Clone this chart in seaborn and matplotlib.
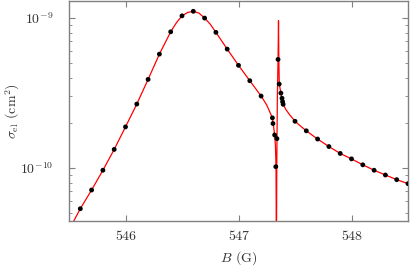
import matplotlib
matplotlib.use("Agg")
import matplotlib.pyplot as plt
import seaborn as sns
import pandas as pd
from matplotlib.ticker import FixedLocator, NullLocator, NullFormatter, FixedFormatter

# Measured points (B in gauss, cross-section in cm^2)
B_pts = [545.6, 545.7, 545.8, 545.9, 546.0, 546.1, 546.2, 546.3, 546.4, 546.5,
         546.6, 546.7, 546.8, 546.9, 547.0, 547.1, 547.2, 547.30, 547.305, 547.32,
         547.33, 547.34, 547.35, 547.36, 547.375, 547.385, 547.39, 547.395, 547.5,
         547.6, 547.7, 547.8, 547.9, 548.0, 548.1, 548.2, 548.3, 548.4, 548.5]
sig_pts = [5.35e-11, 7.13e-11, 9.66e-11, 1.33e-10, 1.88e-10, 2.67e-10, 3.90e-10, 5.75e-10, 8.10e-10, 1.035e-9,
           1.11e-9, 1.00e-9, 8.03e-10, 6.21e-10, 4.84e-10, 3.82e-10, 3.02e-10, 2.16e-10, 1.98e-10, 1.66e-10,
           1.02e-10, 1.57e-10, 5.30e-10, 3.63e-10, 3.16e-10, 2.92e-10, 2.77e-10, 2.66e-10, 2.05e-10,
           1.77e-10, 1.56e-10, 1.39e-10, 1.25e-10, 1.15e-10, 1.05e-10, 9.66e-11, 8.98e-11, 8.36e-11, 7.86e-11]

# Theory curve
B_line = [545.54, 545.6, 545.7, 545.8, 545.9, 546.0, 546.1, 546.2, 546.3, 546.4, 546.45, 546.5,
          546.55, 546.6, 546.65, 546.7, 546.75, 546.8, 546.9, 547.0, 547.1, 547.2, 547.25,
          547.30, 547.31, 547.32, 547.327, 547.332, 547.3345, 547.3355, 547.3365, 547.339,
          547.344, 547.350, 547.354, 547.357, 547.361, 547.375, 547.385, 547.395, 547.42,
          547.45, 547.5, 547.55, 547.6, 547.7, 547.8, 547.9, 548.0, 548.1, 548.2, 548.3, 548.4, 548.5]
sig_line = [4.4e-11, 5.35e-11, 7.13e-11, 9.66e-11, 1.33e-10, 1.88e-10, 2.67e-10, 3.90e-10, 5.75e-10, 8.10e-10, 9.3e-10, 1.035e-9,
            1.09e-9, 1.11e-9, 1.08e-9, 1.00e-9, 9.1e-10, 8.03e-10, 6.21e-10, 4.84e-10, 3.82e-10, 3.02e-10, 2.63e-10,
            2.16e-10, 1.90e-10, 1.66e-10, 1.40e-10, 1.02e-10, 4.0e-11, 1.0e-12, 4.0e-11, 1.10e-10,
            3.0e-10, 5.3e-10, 9.6e-10, 5.2e-10, 3.63e-10, 3.16e-10, 2.90e-10, 2.66e-10, 2.45e-10,
            2.28e-10, 2.05e-10, 1.90e-10, 1.77e-10, 1.56e-10, 1.39e-10, 1.25e-10, 1.15e-10, 1.05e-10, 9.66e-11, 8.98e-11, 8.36e-11, 7.86e-11]

x_ticks = [546, 547, 548]
x_ticklabels = ["546", "547", "548"]
y_ticks = [1e-10, 1e-9]
y_ticklabels = [r"$10^{-10}$", r"$10^{-9}$"]
y_minor = [5e-11, 6e-11, 7e-11, 8e-11, 9e-11,
           2e-10, 3e-10, 4e-10, 5e-10, 6e-10, 7e-10, 8e-10, 9e-10]

sns.set_style("ticks")
plt.rcParams["font.family"] = ["serif"]
plt.rcParams["font.serif"] = ["cmr10", "DejaVu Serif"]
plt.rcParams["mathtext.fontset"] = "cm"
plt.rcParams["axes.unicode_minus"] = False
plt.rcParams["axes.formatter.use_mathtext"] = True

fig = plt.figure(figsize=(4.11, 2.66), dpi=100)
ax = fig.add_axes([69/411, 1 - 221/266, (408 - 69)/411, (221 - 1)/266])

df_line = pd.DataFrame({"B": B_line, "sigma": sig_line})
df_pts = pd.DataFrame({"B": B_pts, "sigma": sig_pts})

sns.lineplot(data=df_line, x="B", y="sigma", ax=ax, color="#ff0000", lw=0.9,
             estimator=None, sort=False, zorder=2)
sns.scatterplot(data=df_pts, x="B", y="sigma", ax=ax, color="black", s=12,
                edgecolor="none", zorder=3)

ax.set_yscale("log")
ax.set_xlim(545.5, 548.5)
ax.set_ylim(4.43e-11, 1.30e-9)

gray = "#808080"
for sp in ax.spines.values():
    sp.set_color(gray)
    sp.set_linewidth(1.0)
    sp.set_visible(True)

ax.xaxis.set_major_locator(FixedLocator(x_ticks))
ax.xaxis.set_major_formatter(FixedFormatter(x_ticklabels))
ax.xaxis.set_minor_locator(NullLocator())
ax.yaxis.set_major_locator(FixedLocator(y_ticks))
ax.yaxis.set_major_formatter(FixedFormatter(y_ticklabels))
ax.yaxis.set_minor_locator(FixedLocator(y_minor))
ax.yaxis.set_minor_formatter(NullFormatter())

ax.tick_params(axis="both", which="both", direction="in", color=gray,
               top=True, right=True, labelsize=10, labelcolor="#333333")
ax.tick_params(axis="x", which="major", length=4, pad=7)
ax.tick_params(axis="y", which="major", length=4, pad=11)
ax.tick_params(axis="y", which="minor", length=2.5)

ax.set_xlabel(r"$B$ (G)", fontsize=10, color="#333333", va="center")
ax.set_ylabel(r"$\sigma_{\rm el}$ (cm$^2$)", fontsize=10, color="#333333", va="center")
ax.xaxis.set_label_coords(0.5, -0.168)
ax.yaxis.set_label_coords(-0.165, 0.5)

fig.savefig("out.png", dpi=100)
